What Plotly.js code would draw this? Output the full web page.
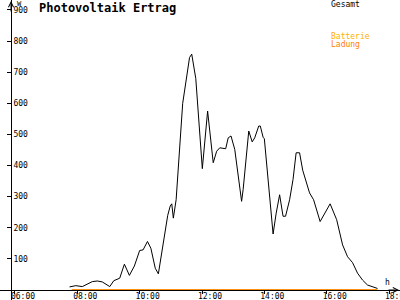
<!DOCTYPE html>
<html>
<head>
<meta charset="utf-8">
<script src="https://cdn.plot.ly/plotly-3.0.1.min.js"></script>
<style>html,body{margin:0;padding:0;background:#fff;}#chart{width:400px;height:300px;}</style>
</head>
<body>
<div id="chart"></div>
<script>
// Time of day in hours
const times = [7.75, 7.84, 7.95, 8.16, 8.48, 8.64, 8.8, 9.04, 9.17, 9.36, 9.51, 9.67, 9.83, 10.0, 10.11, 10.25, 10.36, 10.5, 10.6, 10.9, 10.98, 11.03, 11.08, 11.17, 11.28, 11.38, 11.6, 11.67, 11.8, 12.01, 12.18, 12.36, 12.47, 12.57, 12.76, 12.84, 12.93, 13.05, 13.27, 13.32, 13.5, 13.61, 13.69, 13.82, 13.87, 13.96, 14.0, 14.28, 14.38, 14.49, 14.6, 14.68, 14.81, 14.92, 15.02, 15.13, 15.23, 15.45, 15.58, 15.79, 16.11, 16.32, 16.51, 16.67, 16.83, 16.99, 17.15, 17.31, 17.63];
// Gesamt (W)
const gesamt = [10, 11, 14, 11, 27, 29, 26, 11, 30, 38, 83, 47, 77, 127, 129, 156, 134, 70, 52, 240, 270, 277, 231, 290, 452, 600, 747, 758, 680, 390, 575, 409, 446, 457, 454, 489, 495, 452, 285, 323, 511, 476, 489, 527, 527, 491, 486, 180, 247, 306, 237, 237, 290, 355, 441, 441, 385, 312, 290, 220, 277, 226, 145, 107, 88, 54, 32, 16, 5];
// Batterie / Ladung
const batTimes = [7.82, 17.62];
const batterie = [0, 0];
const ladung = [0, 0];

const xTickVals = [6, 8, 10, 12, 14, 16, 18];
const xTickText = ['06:00', '08:00', '10:00', '12:00', '14:00', '16:00', '18:00'];
const yTickVals = [100, 200, 300, 400, 500, 600, 700, 800, 900];

const mono = 'DejaVu Sans Mono, Liberation Mono, monospace';

const traces = [
  {x: batTimes, y: batterie, type: 'scatter', mode: 'lines', name: 'Batterie', line: {color: '#ffb000', width: 1.5}},
  {x: batTimes, y: ladung, type: 'scatter', mode: 'lines', name: 'Ladung', line: {color: '#ff8000', width: 1.5}},
  {x: times, y: gesamt, type: 'scatter', mode: 'lines', name: 'Gesamt', line: {color: '#000000', width: 1}}
];

const layout = {
  width: 400, height: 300,
  margin: {l: 0, r: 0, t: 0, b: 0, pad: 0},
  paper_bgcolor: '#ffffff', plot_bgcolor: '#ffffff',
  showlegend: false,
  title: {text: 'Photovoltaik Ertrag', x: 39/400, xanchor: 'left', y: 1 - 8/300, yanchor: 'middle',
          font: {family: mono, size: 12, color: '#000', weight: 'bold'}},
  xaxis: {
    range: [5.519, 18.352], anchor: 'free', position: 10/300,
    showline: true, linecolor: '#000', linewidth: 1,
    ticks: 'outside', ticklen: 3, tickcolor: '#000', tickwidth: 1,
    tickmode: 'array', tickvals: xTickVals, ticktext: xTickText,
    tickfont: {family: mono, size: 8, color: '#000'},
    ticklabelshift: 8, ticklabelstandoff: -5, ticklabeloverflow: 'allow',
    showgrid: false, zeroline: false
  },
  yaxis: {
    range: [-32.1, 932], anchor: 'free', position: 11/400,
    showline: true, linecolor: '#000', linewidth: 1,
    ticks: 'outside', ticklen: 4, tickcolor: '#000', tickwidth: 1,
    ticklabelposition: 'inside', ticklabeloverflow: 'allow',
    tickmode: 'array', tickvals: yTickVals,
    tickfont: {family: mono, size: 8, color: '#000'},
    showgrid: false, zeroline: false
  },
  annotations: [
    {xref: 'paper', yref: 'paper', x: 399/400, y: 10/300, ax: -12, ay: 0, text: '', showarrow: true, arrowhead: 5, arrowsize: 1, arrowwidth: 1, arrowcolor: '#000'},
    {xref: 'paper', yref: 'paper', x: 11/400, y: 299/300, ax: 0, ay: 12, text: '', showarrow: true, arrowhead: 5, arrowsize: 1, arrowwidth: 1, arrowcolor: '#000'},
    {xref: 'paper', yref: 'paper', x: 15/400, y: 1 - 4/300, xanchor: 'left', yanchor: 'middle', text: 'W', showarrow: false, font: {family: mono, size: 7, color: '#000'}},
    {xref: 'paper', yref: 'paper', x: 387/400, y: 1 - 282/300, xanchor: 'center', yanchor: 'middle', text: 'h', showarrow: false, font: {family: mono, size: 8, color: '#000000'}},
    {xref: 'paper', yref: 'paper', x: 329/400, y: 1 - 4.5/300, xanchor: 'left', yanchor: 'middle', text: 'Gesamt', showarrow: false, font: {family: mono, size: 8, color: '#000'}},
    {xref: 'paper', yref: 'paper', x: 329/400, y: 1 - 36/300, xanchor: 'left', yanchor: 'middle', text: 'Batterie', showarrow: false, font: {family: mono, size: 8, color: '#ffb000'}},
    {xref: 'paper', yref: 'paper', x: 329/400, y: 1 - 44/300, xanchor: 'left', yanchor: 'middle', text: 'Ladung', showarrow: false, font: {family: mono, size: 8, color: '#ff8000'}}
  ]
};

Plotly.newPlot('chart', traces, layout, {staticPlot: true, displayModeBar: false});
</script>
</body>
</html>
